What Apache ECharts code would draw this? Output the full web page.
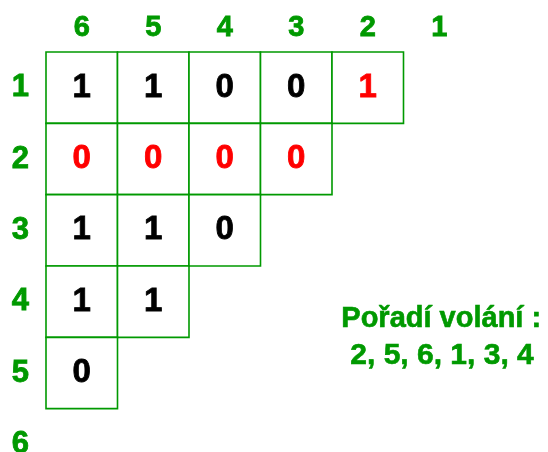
<!DOCTYPE html>
<html>
<head>
<meta charset="utf-8">
<script src="https://cdn.jsdelivr.net/npm/echarts@6/dist/echarts.min.js"></script>
<style>html,body{margin:0;padding:0;background:#fff;}#c{width:548px;height:452px;}</style>
</head>
<body>
<div id="c"></div>
<script>
// Column labels (top), row labels (left)
var colLabels = ['6', '5', '4', '3', '2', '1'];
var rowLabels = ['1', '2', '3', '4', '5', '6'];
// Cell values per row (left to right, starting at column "6")
var row1 = [1, 1, 0, 0, 1];
var row2 = [0, 0, 0, 0];
var row3 = [1, 1, 0];
var row4 = [1, 1];
var row5 = [0];
var row6 = [];
// Highlighted (red) cells per row
var red1 = [0, 0, 0, 0, 1];
var red2 = [1, 1, 1, 1];
var red3 = [0, 0, 0];
var red4 = [0, 0];
var red5 = [0];
var red6 = [];
var noteLine1 = 'Pořadí volání :';
var noteLine2 = '2, 5, 6, 1, 3, 4';

var rows = [row1, row2, row3, row4, row5, row6];
var reds = [red1, red2, red3, red4, red5, red6];
var cells = [];
rows.forEach(function (r, ri) {
  r.forEach(function (v, ci) {
    cells.push([ci, ri, v, reds[ri][ci]]);
  });
});

var GREEN = '#009900';
var FONT = 'Arial';
var chart = echarts.init(document.getElementById('c'));
chart.setOption({
  backgroundColor: '#ffffff',
  animation: false,
  grid: { left: 46, top: 52, width: 429, height: 428, outerBoundsMode: 'none', containLabel: false },
  xAxis: {
    type: 'category', data: colLabels, position: 'top',
    axisLine: { show: false }, axisTick: { show: false }, splitLine: { show: false },
    axisLabel: { color: GREEN, fontSize: 29, fontWeight: 'bold', fontFamily: FONT, margin: 10,
      textBorderColor: GREEN, textBorderWidth: 0.8 }
  },
  yAxis: {
    type: 'category', data: rowLabels, inverse: true,
    axisLine: { show: false }, axisTick: { show: false }, splitLine: { show: false },
    axisLabel: { color: GREEN, fontSize: 31, fontWeight: 'bold', fontFamily: FONT, margin: 17,
      textBorderColor: GREEN, textBorderWidth: 0.8 }
  },
  series: [{
    type: 'custom',
    data: cells,
    renderItem: function (params, api) {
      var c = api.coord([api.value(0), api.value(1)]);
      var s = api.size([1, 1]);
      var col = api.value(3) === 1 ? '#ff0000' : '#000000';
      return {
        type: 'group',
        children: [{
          type: 'rect',
          shape: { x: c[0] - s[0] / 2, y: c[1] - s[1] / 2, width: s[0], height: s[1] },
          style: { fill: '#ffffff', stroke: GREEN, lineWidth: 1.6 }
        }, {
          type: 'text',
          x: c[0], y: c[1],
          style: {
            text: String(api.value(2)),
            fill: col, stroke: col, lineWidth: 0.8,
            fontSize: 33, fontWeight: 'bold',
            fontFamily: FONT,
            align: 'center', verticalAlign: 'middle'
          }
        }]
      };
    }
  }],
  graphic: [{
    type: 'text', left: 442 - 101, top: 304,
    style: { text: noteLine1, fill: GREEN, stroke: GREEN, lineWidth: 0.6, fontSize: 29, fontWeight: 'bold', fontFamily: FONT }
  }, {
    type: 'text', left: 442 - 92, top: 340,
    style: { text: noteLine2, fill: GREEN, stroke: GREEN, lineWidth: 0.6, fontSize: 30, fontWeight: 'bold', fontFamily: FONT }
  }]
});
</script>
</body>
</html>
